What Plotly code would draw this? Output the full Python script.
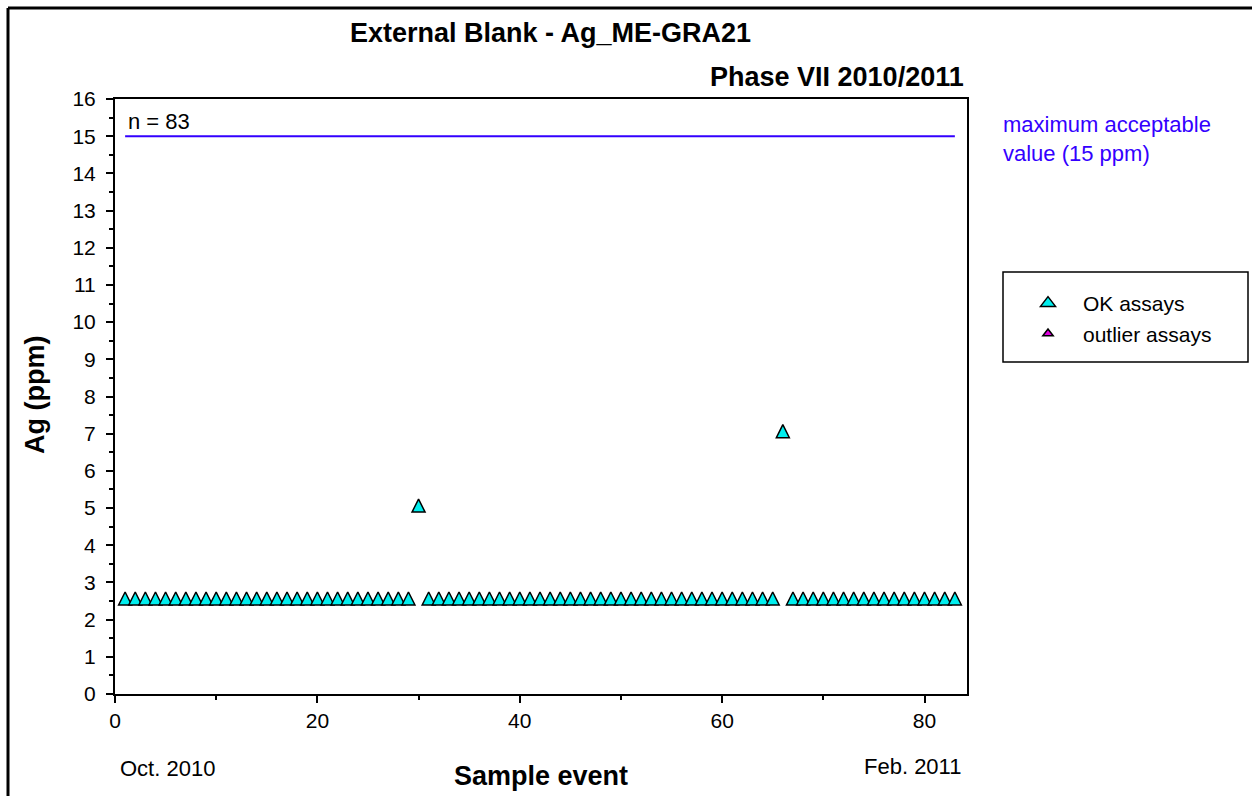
import plotly.graph_objects as go

# ---- data ----
sample_event = list(range(1, 84))
ag_ppm = [2.5] * 83
ag_ppm[29] = 5.0   # sample 30
ag_ppm[65] = 7.0   # sample 66

outlier_x = [None]
outlier_y = [None]

limit_x = [1, 83]
limit_y = [15, 15]

x_tickvals = [0, 20, 40, 60, 80]
y_tickvals = list(range(0, 17))

FONT = "Liberation Sans, Arial, sans-serif"
LIMIT_COLOR = "#3300ff"
OK_COLOR = "#00eeee"
OUT_COLOR = "#e000e0"

fig = go.Figure()

fig.add_trace(go.Scatter(
    x=limit_x, y=limit_y, mode="lines",
    line=dict(color=LIMIT_COLOR, width=2),
    showlegend=False, hoverinfo="skip"))

# data markers (equal-sided triangle, lifted so it is centred on the value)
fig.add_trace(go.Scatter(
    x=sample_event, y=ag_ppm, mode="markers", name="OK assays",
    legendgroup="ok", showlegend=False,
    marker=dict(symbol="arrow-down", size=13, color=OK_COLOR, angle=180, standoff=9,
                line=dict(color="black", width=1.5))))

# legend entries
fig.add_trace(go.Scatter(
    x=[None], y=[None], mode="markers", name="OK assays", legendgroup="ok",
    marker=dict(symbol="triangle-up", size=13, color=OK_COLOR,
                line=dict(color="black", width=1.5))))

fig.add_trace(go.Scatter(
    x=outlier_x, y=outlier_y, mode="markers", name="outlier assays",
    legendgroup="ok",
    marker=dict(symbol="triangle-up", size=9, color=OUT_COLOR,
                line=dict(color="black", width=1.5))))

# plot area geometry (px)
L, R, T, B = 115, 285, 99, 102
W, H = 1252 - L - R, 796 - T - B

def px(x):
    return (x - L) / W

def py(y):
    return (796 - B - y) / H

fig.update_layout(
    width=1252, height=796,
    margin=dict(l=L, r=R, t=T, b=B),
    paper_bgcolor="white", plot_bgcolor="white",
    font=dict(family=FONT, size=21, color="black"),
    showlegend=True,
    legend=dict(x=px(1013), y=py(283), xanchor="left", yanchor="top",
                bgcolor="rgba(0,0,0,0)", borderwidth=0, tracegroupgap=0,
                font=dict(size=21), itemsizing="trace", itemwidth=60),
    xaxis=dict(range=[0, 84.2], tickvals=x_tickvals, ticks="outside",
               ticklen=7, tickwidth=2, tickcolor="black",
               minor=dict(dtick=10, tick0=0, ticks="outside", ticklen=4,
                          tickwidth=2, tickcolor="black"),
               showline=True, linecolor="black", linewidth=2, mirror=True,
               showgrid=False, zeroline=False,
               tickfont=dict(size=21)),
    yaxis=dict(range=[0, 16], tickvals=y_tickvals, ticks="outside",
               ticklen=7, tickwidth=2, tickcolor="black",
               minor=dict(dtick=0.5, tick0=0, ticks="outside", ticklen=4,
                          tickwidth=1.5, tickcolor="black"),
               showline=True, linecolor="black", linewidth=2, mirror=True,
               showgrid=False, zeroline=False, ticklabelstandoff=6,
               tickfont=dict(size=21)),
)

# outer border (top and left only)
fig.add_shape(type="line", xref="paper", yref="paper",
              x0=px(8), x1=px(1252), y0=py(8), y1=py(8),
              line=dict(color="black", width=3))
fig.add_shape(type="line", xref="paper", yref="paper",
              x0=px(8), x1=px(8), y0=py(8), y1=py(796),
              line=dict(color="black", width=3))
# legend box
fig.add_shape(type="rect", xref="paper", yref="paper",
              x0=px(1003), x1=px(1248), y0=py(272), y1=py(362),
              line=dict(color="black", width=1.5), fillcolor="rgba(0,0,0,0)")

ann = [
    dict(text="<b>External Blank - Ag_ME-GRA21</b>", x=px(550), y=py(33),
         xanchor="center", yanchor="middle", font=dict(size=27)),
    dict(text="<b>Phase VII 2010/2011</b>", x=px(966), y=py(77),
         xanchor="right", yanchor="middle", font=dict(size=27)),
    dict(text="<b>Ag (ppm)</b>", x=px(35), y=py(395), textangle=-90,
         xanchor="center", yanchor="middle", font=dict(size=27)),
    dict(text="<b>Sample event</b>", x=px(541), y=py(776),
         xanchor="center", yanchor="middle", font=dict(size=27)),
    dict(text="Oct. 2010", x=px(167), y=py(768),
         xanchor="center", yanchor="middle", font=dict(size=22)),
    dict(text="Feb. 2011", x=px(912), y=py(766),
         xanchor="center", yanchor="middle", font=dict(size=22)),
    dict(text="n = 83", x=px(126), y=py(122),
         xanchor="left", yanchor="middle", font=dict(size=22)),
    dict(text="maximum acceptable<br>value (15 ppm)", x=px(1001), y=py(139),
         xanchor="left", yanchor="middle", align="left",
         font=dict(size=22, color=LIMIT_COLOR)),
]
for a in ann:
    a.update(xref="paper", yref="paper", showarrow=False)
    fig.add_annotation(**a)

fig.write_html("out.html")
